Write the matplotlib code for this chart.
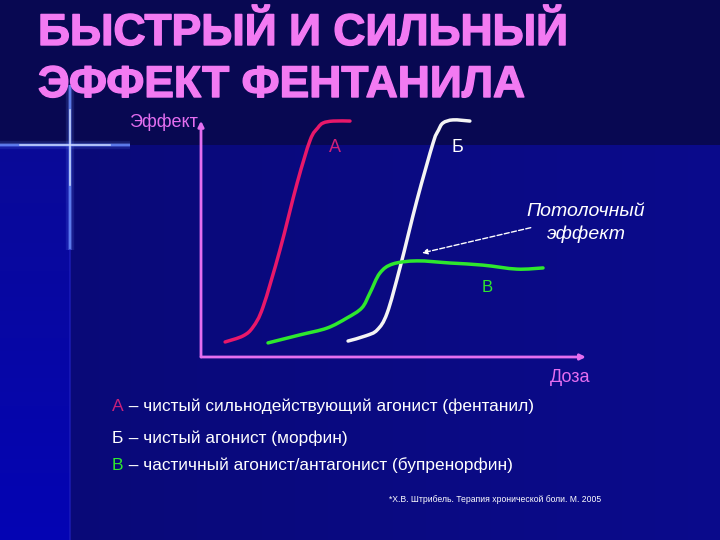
import numpy as np
import matplotlib.pyplot as plt
from matplotlib.path import Path
from matplotlib.patches import PathPatch
import matplotlib.patheffects as pe

# данные кривых (доза, эффект)
dose_a = [6.3, 11.0, 13.6, 16.2, 20.6, 25.1, 28.5, 30.5, 31.9, 34.5, 38.9]
eff_a = [6.4, 9.0, 12.8, 21.3, 45.5, 74.0, 92.3, 97.5, 99.6, 100.4, 100.4]

dose_b = [38.4, 43.0, 46.0, 48.6, 52.0, 56.4, 60.6, 62.0, 63.2, 65.8, 70.2]
eff_b = [6.8, 9.0, 11.5, 18.7, 38.3, 66.8, 91.1, 96.5, 99.6, 100.9, 100.4]

dose_c = [17.5, 25.8, 32.9, 38.1, 42.0, 44.1, 46.7, 50.1, 56.4, 65.0, 73.6, 82.5, 89.3]
eff_c = [6.0, 9.4, 12.3, 16.6, 20.9, 27.2, 35.7, 39.6, 40.9, 40.0, 39.1, 37.4, 37.9]

curve_names = ['А', 'Б', 'В']
legend_rows = ['чистый сильнодействующий агонист (фентанил)',
               'чистый агонист (морфин)',
               'частичный агонист/антагонист (бупренорфин)']

pink = '#f27af2'
axis_pink = '#e46ef0'
red = '#e8186a'
green = '#2ee82e'
font = ['Liberation Sans', 'DejaVu Sans']


def smooth_path(xs, ys):
    # кривая Катмулла-Рома через точки, в виде безье
    p = np.column_stack([xs, ys]).astype(float)
    p = np.vstack([p[0], p, p[-1]])
    verts = [p[1]]
    codes = [Path.MOVETO]
    for i in range(1, len(p) - 2):
        c1 = p[i] + (p[i + 1] - p[i - 1]) / 6
        c2 = p[i + 1] - (p[i + 2] - p[i]) / 6
        verts += [c1, c2, p[i + 1]]
        codes += [Path.CURVE4] * 3
    return Path(verts, codes)


def draw_curve(ax, xs, ys, color):
    patch = PathPatch(smooth_path(xs, ys), fill=False, edgecolor=color, lw=2.5,
                      capstyle='round', joinstyle='round', transform=ax.transData, clip_on=False)
    ax.add_patch(patch)


fig = plt.figure(figsize=(7.2, 5.4), dpi=100)

# фон слайда в пикселях
bg = fig.add_axes([0, 0, 1, 1])
bg.set_xlim(0, 720)
bg.set_ylim(540, 0)
bg.axis('off')
H, W = 540, 720
yy, xx = np.mgrid[0:H, 0:W]
img = np.zeros((H, W, 3))
img[:] = np.array([9, 9, 118]) / 255 + (xx[..., None] / W) * np.array([2, 2, 22]) / 255
top = yy < 145
img[top] = np.array([8, 8, 82]) / 255
left = xx < 70
t = (yy / H)[..., None]
left_col = (1 - t) * np.array([12, 12, 140]) / 255 + t * np.array([4, 4, 180]) / 255
img[left & ~top] = left_col[left & ~top]
bg.imshow(img, extent=[0, 720, 540, 0], aspect='auto', zorder=0)

# звездочка
for lw, a in [(6, 0.15), (3, 0.35), (1.2, 0.9)]:
    bg.plot([0, 130], [145, 145], color='#6a8cff', lw=lw, alpha=a, solid_capstyle='butt')
    bg.plot([70, 70], [85, 250], color='#6a8cff', lw=lw, alpha=a, solid_capstyle='butt')
bg.plot([20, 110], [145, 145], color='#d8e4ff', lw=1.2, alpha=0.8)
bg.plot([70, 70], [110, 185], color='#d8e4ff', lw=1.2, alpha=0.8)
bg.plot([70, 70], [250, 540], color='#2020c0', lw=1.5, alpha=0.6)

# заголовок
for yv, line in [(45, 'БЫСТРЫЙ И СИЛЬНЫЙ'), (97, 'ЭФФЕКТ ФЕНТАНИЛА')]:
    bg.text(38, yv, line, color=pink, fontsize=32, fontweight='bold', family=font,
            va='baseline', ha='left',
            path_effects=[pe.withStroke(linewidth=1, foreground=pink)])

# график
ax = fig.add_axes([201 / 720, 1 - 357 / 540, 383 / 720, 235 / 540])
ax.set_xlim(0, 100)
ax.set_ylim(0, 100)
ax.axis('off')
ax.patch.set_alpha(0)

ax.annotate('', xy=(0, 100.5), xytext=(0, 0), annotation_clip=False,
            arrowprops=dict(arrowstyle='-|>', color=axis_pink, lw=2, mutation_scale=8,
                            shrinkA=0, shrinkB=0))
ax.annotate('', xy=(100.5, 0), xytext=(0, 0), annotation_clip=False,
            arrowprops=dict(arrowstyle='-|>', color=axis_pink, lw=2, mutation_scale=8,
                            shrinkA=0, shrinkB=0))

draw_curve(ax, dose_a, eff_a, red)
draw_curve(ax, dose_b, eff_b, '#f4f4f4')
draw_curve(ax, dose_c, eff_c, green)

ax.annotate('', xy=(57.0, 44.0), xytext=(86.8, 55.3), annotation_clip=False,
            arrowprops=dict(arrowstyle='-|>', color='white', lw=1, ls='--', mutation_scale=8))

bg.text(335, 148, curve_names[0], color='#d0207a', fontsize=13, ha='center', va='center', family=font)
bg.text(457, 148, curve_names[1], color='white', fontsize=13, ha='center', va='center', family=font)
bg.text(487, 287, curve_names[2], color=green, fontsize=12, ha='center', va='center', family=font)

bg.text(198, 122, 'Эффект', color=axis_pink, fontsize=13, ha='right', va='center', family=font)
bg.text(570, 377, 'Доза', color=axis_pink, fontsize=13, ha='center', va='center', family=font)
bg.text(586, 212, 'Потолочный', color='white', fontsize=14, style='italic', ha='center', va='center', family=font)
bg.text(586, 234, 'эффект', color='white', fontsize=14, style='italic', ha='center', va='center', family=font)

# подписи кривых
row_y = [411, 443, 470]
row_col = ['#c8207a', 'white', green]
for name, row, yv, c in zip(curve_names, legend_rows, row_y, row_col):
    bg.text(112, yv, name, color=c, fontsize=12.6, ha='left', va='baseline', family=font)
    bg.text(124, yv, ' – ' + row, color='white', fontsize=12.4, ha='left', va='baseline', family=font)

bg.text(601, 500, '*Х.В. Штрибель. Терапия хронической боли. М. 2005', color='white',
        fontsize=6.2, ha='right', va='center', family=font)

fig.savefig('out.png', dpi=100)
